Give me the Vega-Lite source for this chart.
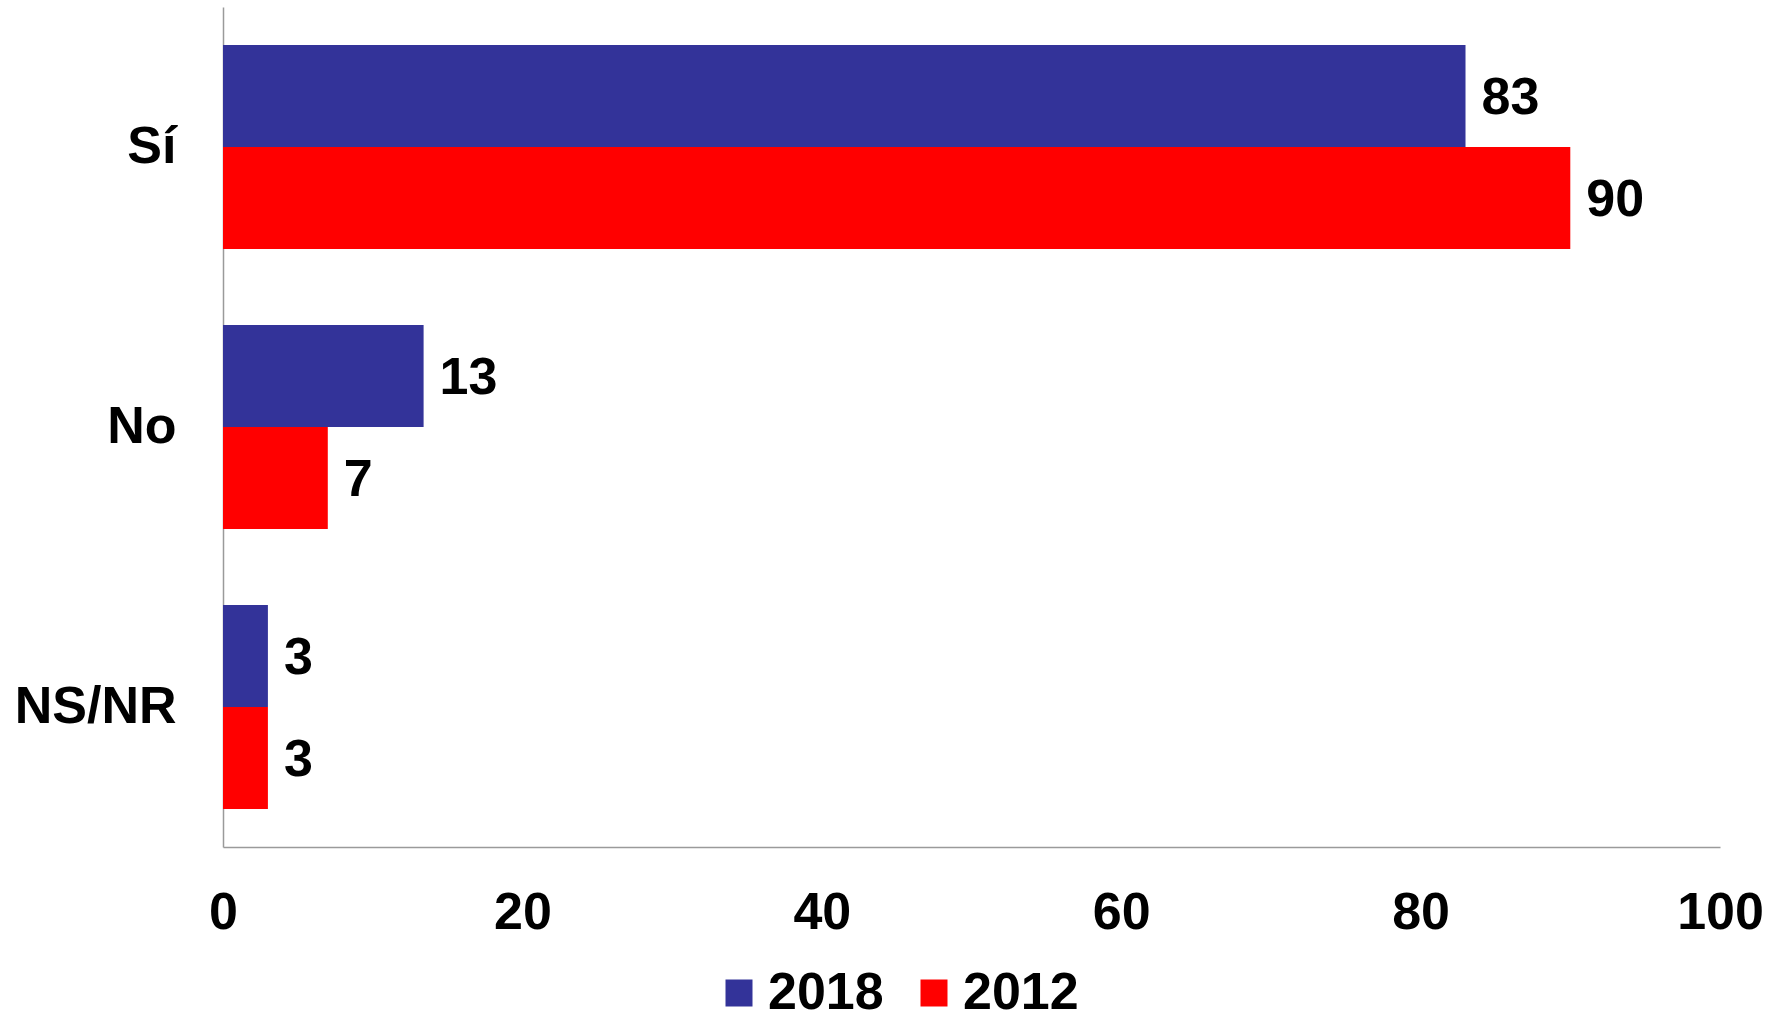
{
  "$schema": "https://vega.github.io/schema/vega-lite/v6.json",
  "width": 1497,
  "height": 840,
  "autosize": {"type": "none"},
  "padding": {"left": 223, "top": 7, "right": 63, "bottom": 168},
  "background": "white",
  "config": {
    "view": {"stroke": null},
    "font": "Liberation Sans",
    "axis": {"labelFont": "Liberation Sans", "labelFontWeight": "bold", "labelColor": "black", "labelFontSize": 52}
  },
  "data": {
    "values": [
      {"cat": "Sí", "year": "2018", "value": 83, "label": "83"},
      {"cat": "Sí", "year": "2012", "value": 90, "label": "90"},
      {"cat": "No", "year": "2018", "value": 13.4, "label": "13"},
      {"cat": "No", "year": "2012", "value": 7, "label": "7"},
      {"cat": "NS/NR", "year": "2018", "value": 3, "label": "3"},
      {"cat": "NS/NR", "year": "2012", "value": 3, "label": "3"}
    ]
  },
  "encoding": {
    "y": {
      "field": "cat", "type": "nominal", "sort": ["Sí", "No", "NS/NR"], "title": null,
      "scale": {"paddingInner": 0.2714, "paddingOuter": 0.1357},
      "axis": {"ticks": false, "tickSize": 0, "labelPadding": 47, "domainColor": "#9a9a9a", "domainWidth": 1.5, "grid": false}
    },
    "yOffset": {"field": "year", "type": "nominal", "sort": ["2018", "2012"], "scale": {"paddingInner": 0, "paddingOuter": 0}},
    "x": {
      "field": "value", "type": "quantitative", "title": null,
      "scale": {"domain": [0, 100], "nice": false},
      "axis": {"values": [0, 20, 40, 60, 80, 100], "ticks": false, "tickSize": 0, "labelPadding": 40, "domainColor": "#9a9a9a", "domainWidth": 1.5, "grid": false, "labelFlush": false}
    }
  },
  "layer": [
    {
      "mark": {"type": "bar"},
      "encoding": {
        "color": {
          "field": "year", "type": "nominal",
          "scale": {"domain": ["2018", "2012"], "range": ["#333399", "#FF0000"]},
          "legend": {
            "title": null, "orient": "none", "direction": "horizontal",
            "legendX": 490, "legendY": 960,
            "symbolType": "square", "symbolSize": 729, "symbolStrokeWidth": 0,
            "labelFontSize": 52, "labelFontWeight": "bold", "labelFont": "Liberation Sans", "labelColor": "black",
            "labelOffset": 3, "columnPadding": 24, "padding": 0
          }
        }
      }
    },
    {
      "mark": {"type": "text", "align": "left", "baseline": "middle", "dx": 16, "dy": 2, "fontSize": 52, "fontWeight": "bold", "font": "Liberation Sans", "color": "black"},
      "encoding": {"text": {"field": "label", "type": "nominal"}}
    }
  ]
}
